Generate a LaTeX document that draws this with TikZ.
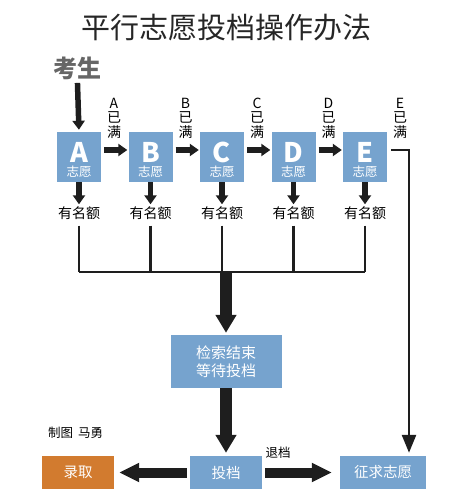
\documentclass[tikz,border=0pt]{standalone}
\usepackage{fontspec}
\setmainfont{Noto Sans CJK SC}
\usetikzlibrary{arrows.meta}
\definecolor{volblue}{HTML}{76A3CE}
\definecolor{admitorange}{HTML}{D27B2F}
\definecolor{ink}{HTML}{1E1E1E}
\begin{document}
\begin{tikzpicture}[line join=miter,x=1pt,y=-1pt,
  vol/.style={fill=volblue,minimum width=44pt,minimum height=50pt,inner sep=0pt},
  flowbox/.style={fill=volblue,text=white,minimum height=33pt,inner sep=0pt,font=\fontsize{14.5}{18}\selectfont},
  smallarr/.style={ink,line width=5.5pt,-{Triangle[width=12pt,length=9pt]}},
  bigarr/.style={ink,line width=12pt,-{Triangle[width=20pt,length=18pt]}},
  midarr/.style={ink,line width=10pt,-{Triangle[width=18pt,length=20pt]}},
  wire/.style={ink,line width=2.6pt},
  full/.style={font=\fontsize{14}{14.5}\selectfont,align=center,inner sep=0pt},
  quota/.style={font=\fontsize{14}{14}\selectfont,inner sep=2pt}]
\useasboundingbox (0,0) rectangle (473,494);
\node[font=\fontsize{29}{29}\selectfont,text=black!85] (title) at (226,28) {平行志愿投档操作办法};
\node[font=\fontsize{24}{24}\selectfont\bfseries,text=black!60] (student) at (77,68) {考生};
\foreach \l [count=\i from 0] in {A,B,C,D,E}{
  \node[vol] (\l) at ({79+71.5*\i},157) {};
  \node[text=white,font=\fontsize{27}{27}\selectfont\bfseries,inner sep=0pt] (let\l) at ([yshift=5]\l.center) {\l};
  \node[text=white,font=\fontsize{12.5}{12.5}\selectfont,inner sep=0pt] (zy\l) at ([yshift=-15]\l.center) {志愿};
  \node[full] (full\l) at ([xshift=35,yshift=39]\l.center) {\l\\已\\满};
  \node[quota] (q\l) at ({79+71.5*\i},213) {有名额};
  \draw[smallarr] (\l.south) -- (q\l.north);
}
\draw[smallarr,shorten >=2pt] (student) -- (A.north);
\foreach \a/\b in {A/B,B/C,C/D,D/E}
  \draw[smallarr,shorten <=3pt,shorten >=1pt] ([yshift=7]\a.east) -- ([yshift=7]\b.west);
\coordinate (bar) at (226,272);
\foreach \l in {A,B,C,D,E}
  \draw[wire] ([yshift=-4]q\l.south) -- (q\l.south |- bar);
\draw[wire,line cap=square] (qA.south |- bar) -- (qE.south |- bar);
\node[flowbox,minimum width=111pt,minimum height=53pt,align=center,font=\fontsize{15}{18}\selectfont] (search) at (226,361.5) {检索结束\\等待投档};
\draw[bigarr,shorten >=2pt] (bar) -- (search.north);
\node[flowbox,minimum width=72pt] (tou) at (226,472.5) {投档};
\draw[bigarr,shorten >=3pt] (search.south) -- (tou.north);
\node[flowbox,fill=admitorange,minimum width=72pt] (admit) at (78,472.5) {录取};
\node[flowbox,minimum width=86pt] (solicit) at (383,472.5) {征求志愿};
\draw[midarr,shorten <=3pt,shorten >=5pt] (tou.west) -- (admit.east);
\draw[midarr,shorten <=3pt,shorten >=8pt] (tou.east) -- (solicit.west);
\node[font=\fontsize{12.5}{12.5}\selectfont] (back) at (278,453) {退档};
\node[font=\fontsize{12.5}{12.5}\selectfont,anchor=west,inner sep=0pt] (credit) at (48,433) {制图\hspace{5pt}马勇};
\coordinate (Eout) at (409,150);
\draw[wire,-{Triangle[width=14pt,length=18pt]},shorten >=3pt] ([xshift=4,yshift=7]E.east) -- (Eout) -- (Eout |- solicit.north);
\end{tikzpicture}
\end{document}
